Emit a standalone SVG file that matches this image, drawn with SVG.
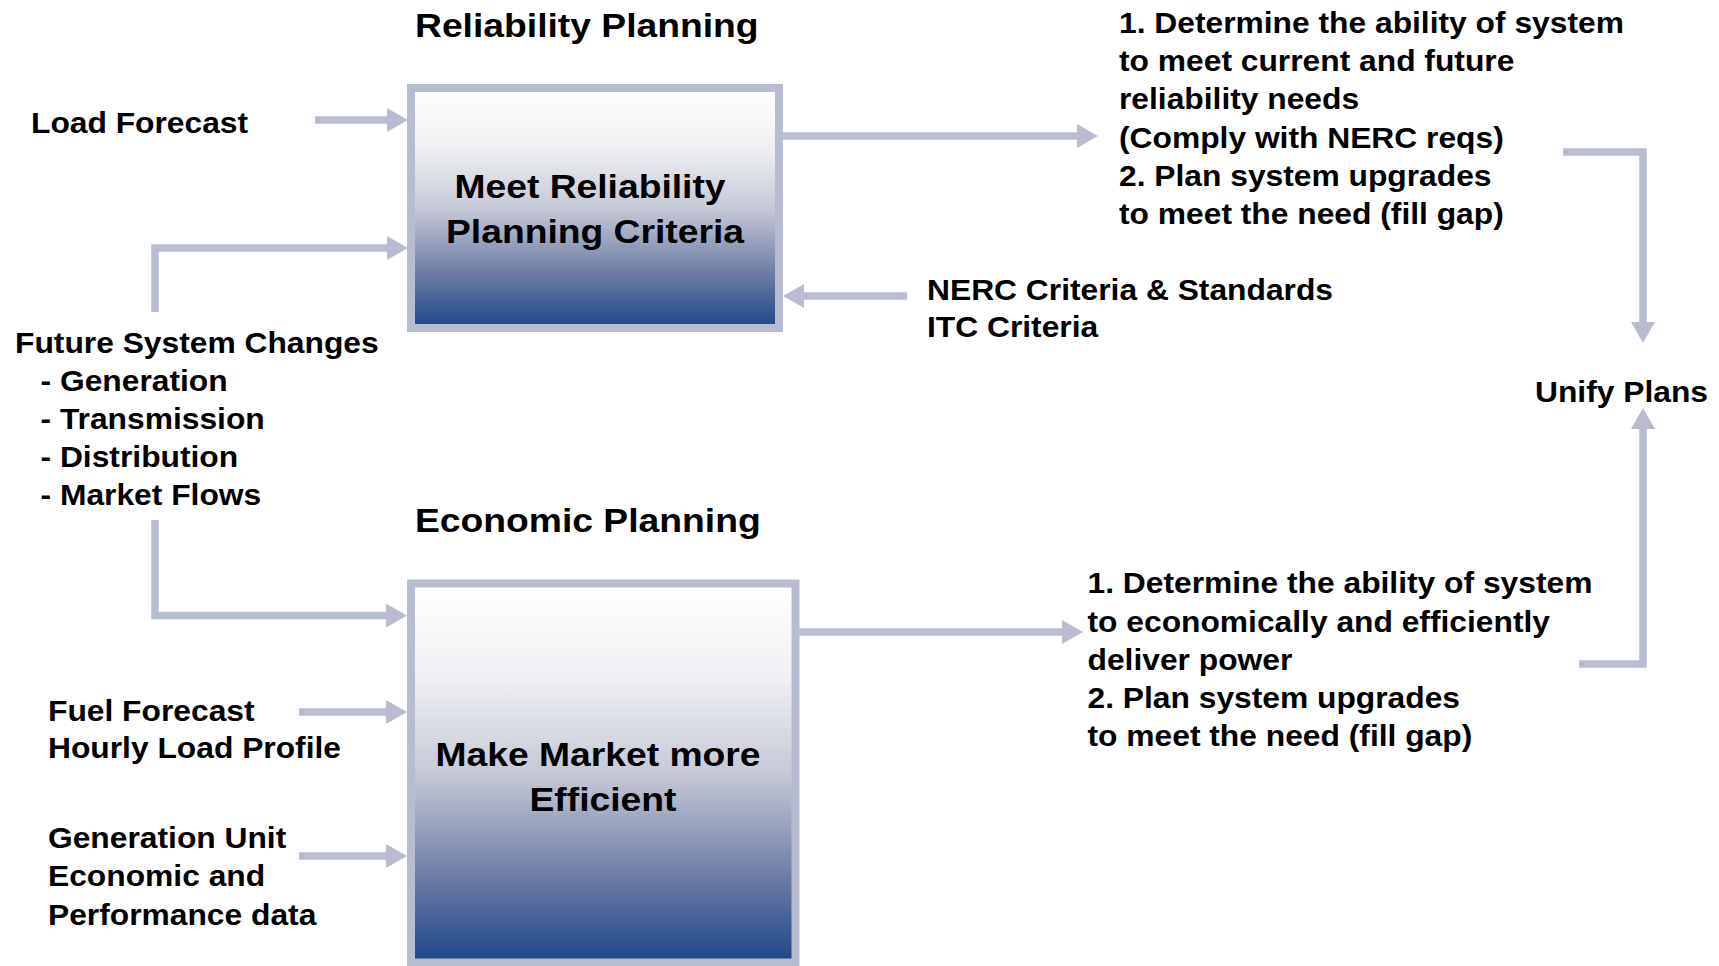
<svg xmlns="http://www.w3.org/2000/svg" width="1719" height="966" viewBox="0 0 1719 966">
  <style>
    text { font-family: "Liberation Sans", Arial, sans-serif; font-weight: bold; fill: #000; }
    .title { font-size: 34px; }
    .box-label { font-size: 34px; text-anchor: middle; }
    .label { font-size: 29px; }
    .box { stroke: #B8BCD0; stroke-width: 8; fill: url(#boxFill); }
    .conn { fill: none; stroke: #B8BCD0; stroke-width: 7.5; stroke-linejoin: miter; }
  </style>
  <defs>
    <linearGradient id="boxFill" x1="0" y1="0" x2="0" y2="1">
      <stop offset="0" stop-color="#ffffff"/>
      <stop offset="0.25" stop-color="#eff0f3"/>
      <stop offset="0.5" stop-color="#c6c9d7"/>
      <stop offset="0.75" stop-color="#7582aa"/>
      <stop offset="1" stop-color="#1c4688"/>
    </linearGradient>
    <marker id="head" markerUnits="userSpaceOnUse" markerWidth="22" markerHeight="24" refX="0" refY="12" orient="auto">
      <path d="M0,0 L21,12 L0,24 Z" fill="#B8BCD0"/>
    </marker>
  </defs>

  <rect width="1719" height="966" fill="#ffffff"/>

  <!-- section titles -->
  <g id="title-reliability">
    <text class="title" transform="translate(415 37) scale(1.096 1)">Reliability Planning</text>
  </g>
  <g id="title-economic">
    <text class="title" transform="translate(415 532) scale(1.096 1)">Economic Planning</text>
  </g>

  <!-- connectors -->
  <g id="connectors">
    <path class="conn" d="M315,120 H387" marker-end="url(#head)"/>
    <path class="conn" d="M155,312 V248 H387" marker-end="url(#head)"/>
    <path class="conn" d="M155,520 V615.5 H386" marker-end="url(#head)"/>
    <path class="conn" d="M299,712 H386" marker-end="url(#head)"/>
    <path class="conn" d="M299,856 H386" marker-end="url(#head)"/>
    <path class="conn" d="M907,296 H804" marker-end="url(#head)"/>
    <path class="conn" d="M783,136 H1077" marker-end="url(#head)"/>
    <path class="conn" d="M799,632 H1062" marker-end="url(#head)"/>
    <path class="conn" d="M1563,152 H1643 V322" marker-end="url(#head)"/>
    <path class="conn" d="M1579,664 H1643 V429" marker-end="url(#head)"/>
  </g>

  <!-- process boxes -->
  <g id="box-reliability">
    <rect class="box" x="411" y="88" width="368" height="240"/>
    <text class="box-label" transform="translate(590 198.3) scale(1.096 1)">Meet Reliability</text>
    <text class="box-label" transform="translate(595 243.3) scale(1.096 1)">Planning Criteria</text>
  </g>
  <g id="box-economic">
    <rect class="box" x="411" y="583.5" width="384.5" height="379"/>
    <text class="box-label" transform="translate(598 766) scale(1.096 1)">Make Market more</text>
    <text class="box-label" transform="translate(603 810.7) scale(1.096 1)">Efficient</text>
  </g>

  <!-- inputs -->
  <g id="load-forecast">
    <text class="label" transform="translate(31 133) scale(1.096 1)">Load Forecast</text>
  </g>
  <g id="future-changes">
    <text class="label" transform="translate(15 352.7) scale(1.096 1)">Future System Changes<tspan x="23.3" dy="38.1">- Generation</tspan><tspan x="23.3" dy="38.1">- Transmission</tspan><tspan x="23.3" dy="38.1">- Distribution</tspan><tspan x="23.3" dy="38.1">- Market Flows</tspan></text>
  </g>
  <g id="fuel-forecast">
    <text class="label" transform="translate(48 720.7) scale(1.096 1)">Fuel Forecast<tspan x="0" dy="37.6">Hourly Load Profile</tspan></text>
  </g>
  <g id="generation-data">
    <text class="label" transform="translate(48 848) scale(1.096 1)">Generation Unit<tspan x="0" dy="38.3">Economic and</tspan><tspan x="0" dy="38.3">Performance data</tspan></text>
  </g>
  <g id="nerc-criteria">
    <text class="label" transform="translate(927 300) scale(1.096 1)">NERC Criteria &amp; Standards<tspan x="0" dy="37.3">ITC Criteria</tspan></text>
  </g>

  <!-- outputs -->
  <g id="reliability-outcome">
    <text class="label" transform="translate(1119 32.5) scale(1.096 1)">1. Determine the ability of system<tspan x="0" dy="38.4">to meet current and future</tspan><tspan x="0" dy="38.4">reliability needs</tspan><tspan x="0" dy="38.4">(Comply with NERC reqs)</tspan><tspan x="0" dy="38.4">2. Plan system upgrades</tspan><tspan x="0" dy="38.4">to meet the need (fill gap)</tspan></text>
  </g>
  <g id="economic-outcome">
    <text class="label" transform="translate(1087.5 593.3) scale(1.096 1)">1. Determine the ability of system<tspan x="0" dy="38.3">to economically and efficiently</tspan><tspan x="0" dy="38.3">deliver power</tspan><tspan x="0" dy="38.3">2. Plan system upgrades</tspan><tspan x="0" dy="38.3">to meet the need (fill gap)</tspan></text>
  </g>
  <g id="unify-plans">
    <text class="label" transform="translate(1535 401.7) scale(1.096 1)">Unify Plans</text>
  </g>
</svg>
